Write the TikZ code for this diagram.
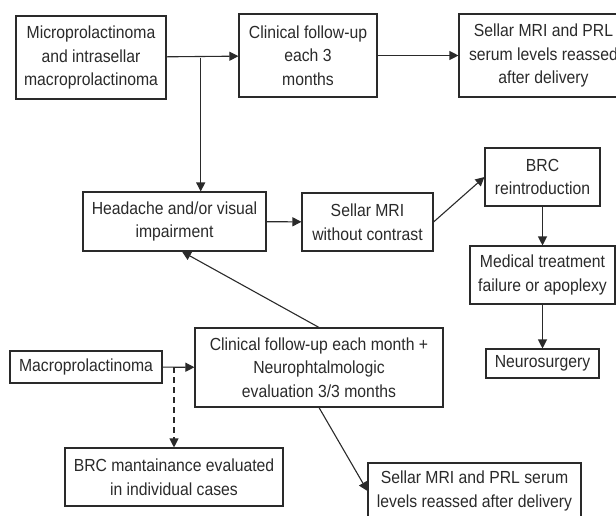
\documentclass[tikz,border=0pt]{standalone}
\usepackage{fontspec}
\setmainfont{Liberation Sans}[FakeStretch=0.9]
\usetikzlibrary{arrows.meta}
\definecolor{ink}{HTML}{2A2A2A}
\begin{document}
\begin{tikzpicture}[x=1pt, y=-1pt, font=\fontsize{17.5}{23.5}\selectfont,
    box/.style={draw=ink, text=ink, line width=1.1pt, align=center, inner sep=0pt},
    arr/.style={draw=ink, line width=1.1pt, -{Triangle[length=9pt, width=9pt]}}]
  \useasboundingbox (0, 0) rectangle (616, 515);
  % patients with micro- or intrasellar macroprolactinoma
  \node[box, minimum width=150pt, minimum height=83pt] (micro) at (91, 57.5)
    {Microprolactinoma\\and intrasellar\\macroprolactinoma};
  \node[box, minimum width=138pt, minimum height=83pt] (clin3) at (308, 55.5)
    {Clinical follow-up\\each 3\\months};
  \node[box, minimum width=169pt, minimum height=83pt] (sellarA) at (543.5, 55.5)
    {Sellar MRI and PRL\\serum levels reassed\\after delivery};
  \node[box, minimum width=183pt, minimum height=59pt] (head) at (174.5, 221.5)
    {Headache and/or visual\\impairment};
  \node[box, minimum width=131pt, minimum height=58pt] (mri) at (367.5, 222)
    {Sellar MRI\\without contrast};
  \node[box, minimum width=115pt, minimum height=58pt] (brc) at (542.5, 177)
    {BRC\\reintroduction};
  \node[box, minimum width=145pt, minimum height=58pt] (fail) at (542.5, 275)
    {Medical treatment\\failure or apoplexy};
  \node[box, minimum width=113pt, minimum height=29pt] (neuro) at (542.5, 363.5)
    {Neurosurgery};
  % patients with macroprolactinoma
  \node[box, minimum width=152pt, minimum height=32pt] (macro) at (86, 367)
    {Macroprolactinoma};
  \node[box, minimum width=248pt, minimum height=79pt] (clinM) at (319, 367.5)
    {Clinical follow-up each month +\\Neurophtalmologic\\evaluation 3/3 months};
  \node[box, minimum width=218pt, minimum height=58pt] (keep) at (174, 477)
    {BRC mantainance evaluated\\in individual cases};
  \node[box, minimum width=213pt, minimum height=56pt] (sellarB) at (474.5, 491)
    {Sellar MRI and PRL serum\\levels reassed after delivery};

  \coordinate (split) at (200.7, 57.5);
  \draw[arr] (micro) -- (clin3);
  \draw[arr] (clin3) -- (sellarA);
  \draw[arr] (split) -- (split |- head.north);
  \draw[arr] (head) -- (mri);
  \draw[arr] (mri.east) -- (brc.west);
  \draw[arr] (brc) -- (fail);
  \draw[arr] (fail) -- (neuro);
  \draw[arr] (macro) -- (clinM);
  \draw[arr, dash pattern=on 6pt off 4pt] (keep.north |- macro.east) -- (keep.north);
  \draw[arr] (clinM.north) -- ([xshift=7.5pt]head.south);
  \draw[arr] (clinM.south) -- (sellarB.west);
\end{tikzpicture}
\end{document}
